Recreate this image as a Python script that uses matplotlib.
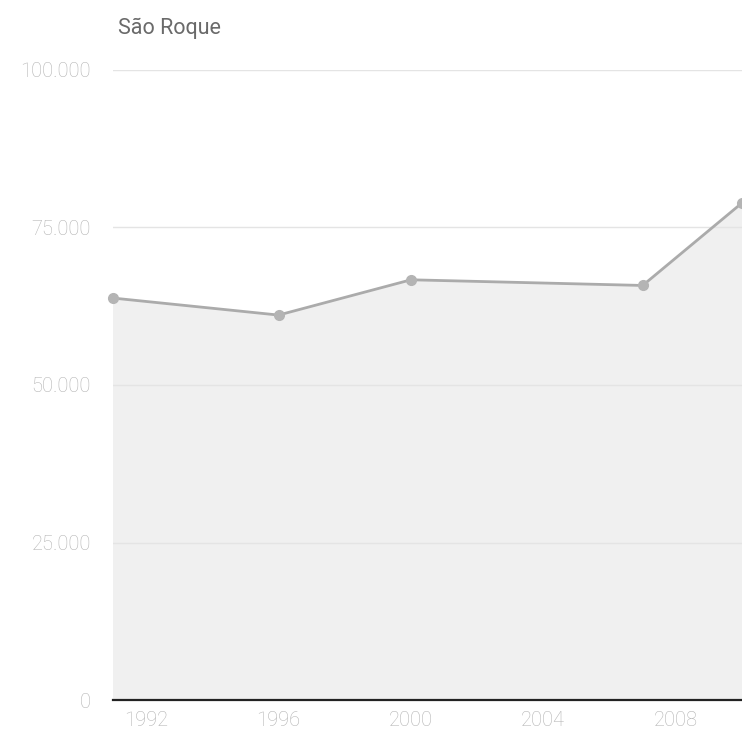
import matplotlib.pyplot as plt
from matplotlib.ticker import FuncFormatter

# population of São Roque by census year
years = [1991, 1996, 2000, 2007, 2010]
population = [63800, 61100, 66700, 65800, 78900]

y_ticks = [0, 25000, 50000, 75000, 100000]
x_ticks = [1992, 1996, 2000, 2004, 2008]

plt.rcParams['font.family'] = ['Roboto', 'DejaVu Sans']

fig = plt.figure(figsize=(7.42, 7.35), dpi=100)
ax = fig.add_axes([113 / 742, 1 - 700 / 735, 1 - 113 / 742, (700 - 70) / 735])

# shaded area under the line, then the line with dots
ax.fill_between(years, population, 0, color='#f0f0f0', zorder=1)
ax.plot(years, population, color='#ababab', lw=2, marker='o', markersize=7,
        markerfacecolor='#b4b4b4', markeredgecolor='#b4b4b4', zorder=3, clip_on=False)

ax.set_xlim(1991, 2010)
ax.set_ylim(0, 100000)
ax.set_xticks(x_ticks)
ax.set_yticks(y_ticks)
ax.yaxis.set_major_formatter(FuncFormatter(lambda v, p: f"{int(v):,}".replace(',', '.')))

ax.grid(axis='y', color='#e4e4e4', lw=1, zorder=2)
for s in ['top', 'right', 'left']:
    ax.spines[s].set_visible(False)
ax.spines['bottom'].set_color('#222222')
ax.spines['bottom'].set_linewidth(1.6)
ax.spines['bottom'].set_zorder(4)

ax.tick_params(axis='y', length=0, pad=16, labelsize=14.5, labelcolor='#b3b3b3')
ax.tick_params(axis='x', length=0, pad=8, labelsize=14.5, labelcolor='#b3b3b3')
for lbl in ax.get_xticklabels() + ax.get_yticklabels():
    lbl.set_fontweight('light')

fig.text(118 / 742, 1 - 28 / 735, "São Roque", fontsize=15.5, color='#6a6a6a',
         ha='left', va='center')

fig.savefig('out.png', dpi=100)
